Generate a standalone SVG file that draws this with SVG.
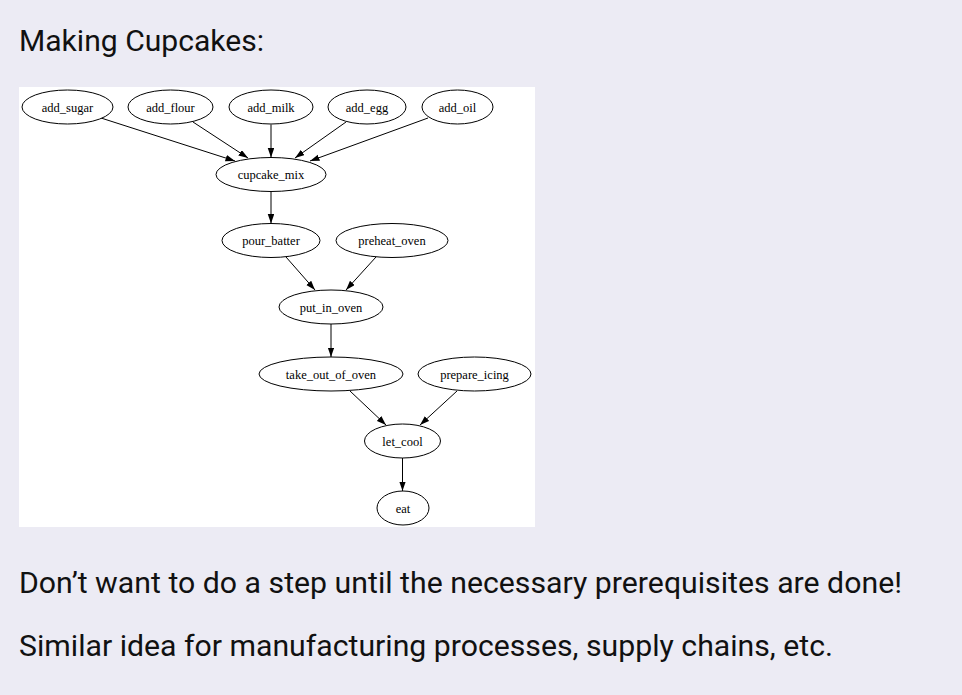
<svg xmlns="http://www.w3.org/2000/svg" width="962" height="695" viewBox="0 0 962 695">
<defs>
<style>
.bg{fill:#ECEBF4}
.panel{fill:#FFFFFF}
.title{font-family:Roboto,"Liberation Sans",sans-serif;font-size:30px;fill:#111111}
.body{font-family:Roboto,"Liberation Sans",sans-serif;font-size:29px;fill:#111111}
.node ellipse{fill:#FFFFFF;stroke:#000000;stroke-width:1}
.node text{font-family:"Liberation Serif","Times New Roman",serif;font-size:12.5px;fill:#000000;text-anchor:middle}
.edges line{stroke:#000000;stroke-width:1;marker-end:url(#arrow)}
</style>
<marker id="arrow" markerUnits="userSpaceOnUse" markerWidth="10" markerHeight="7" refX="9.5" refY="3.25" orient="auto">
<path d="M0,0 L9.5,3.25 L0,6.5 z" fill="#000000"/>
</marker>
</defs>
<rect class="bg" x="0" y="0" width="962" height="695"/>
<text class="title" x="19" y="51" textLength="245" lengthAdjust="spacingAndGlyphs">Making Cupcakes:</text>
<rect class="panel" x="19" y="87" width="516" height="440"/>
<g class="edges" id="connectors">
<line x1="101" y1="118" x2="235" y2="161"/>
<line x1="193" y1="122" x2="248" y2="158"/>
<line x1="271" y1="124.5" x2="271" y2="157.5"/>
<line x1="346" y1="122" x2="295" y2="158"/>
<line x1="428" y1="118" x2="310" y2="161"/>
<line x1="271" y1="191.5" x2="271" y2="223.5"/>
<line x1="286" y1="257" x2="315" y2="290"/>
<line x1="376" y1="257" x2="346" y2="290"/>
<line x1="331" y1="324" x2="331" y2="357"/>
<line x1="350" y1="391" x2="386" y2="425"/>
<line x1="457" y1="391" x2="420" y2="425"/>
<line x1="402.5" y1="458" x2="402.5" y2="491"/>
</g>
<g class="node" id="add_sugar"><ellipse cx="67.5" cy="107" rx="45.5" ry="17"/><text x="67.5" y="111.5">add_sugar</text></g>
<g class="node" id="add_flour"><ellipse cx="170.5" cy="107" rx="42.5" ry="17"/><text x="170.5" y="111.5">add_flour</text></g>
<g class="node" id="add_milk"><ellipse cx="271" cy="107" rx="42" ry="17"/><text x="271" y="111.5">add_milk</text></g>
<g class="node" id="add_egg"><ellipse cx="367" cy="107" rx="39" ry="17"/><text x="367" y="111.5">add_egg</text></g>
<g class="node" id="add_oil"><ellipse cx="457.5" cy="107" rx="35.5" ry="17"/><text x="457.5" y="111.5">add_oil</text></g>
<g class="node" id="cupcake_mix"><ellipse cx="271" cy="174.5" rx="55" ry="17"/><text x="271" y="179">cupcake_mix</text></g>
<g class="node" id="pour_batter"><ellipse cx="271" cy="240.5" rx="49" ry="17"/><text x="271" y="245">pour_batter</text></g>
<g class="node" id="preheat_oven"><ellipse cx="392" cy="240.5" rx="56" ry="17"/><text x="392" y="245">preheat_oven</text></g>
<g class="node" id="put_in_oven"><ellipse cx="331" cy="307" rx="52" ry="17"/><text x="331" y="311.5">put_in_oven</text></g>
<g class="node" id="take_out_of_oven"><ellipse cx="331" cy="374" rx="72" ry="17"/><text x="331" y="378.5">take_out_of_oven</text></g>
<g class="node" id="prepare_icing"><ellipse cx="474.5" cy="374" rx="56.5" ry="17"/><text x="474.5" y="378.5">prepare_icing</text></g>
<g class="node" id="let_cool"><ellipse cx="402.5" cy="441" rx="38" ry="17"/><text x="402.5" y="445.5">let_cool</text></g>
<g class="node" id="eat"><ellipse cx="403" cy="508" rx="26" ry="17"/><text x="403" y="512.5">eat</text></g>
<text class="body" x="19" y="593" textLength="883" lengthAdjust="spacingAndGlyphs">Don’t want to do a step until the necessary prerequisites are done!</text>
<text class="body" x="19" y="656" textLength="814" lengthAdjust="spacingAndGlyphs">Similar idea for manufacturing processes, supply chains, etc.</text>
</svg>
